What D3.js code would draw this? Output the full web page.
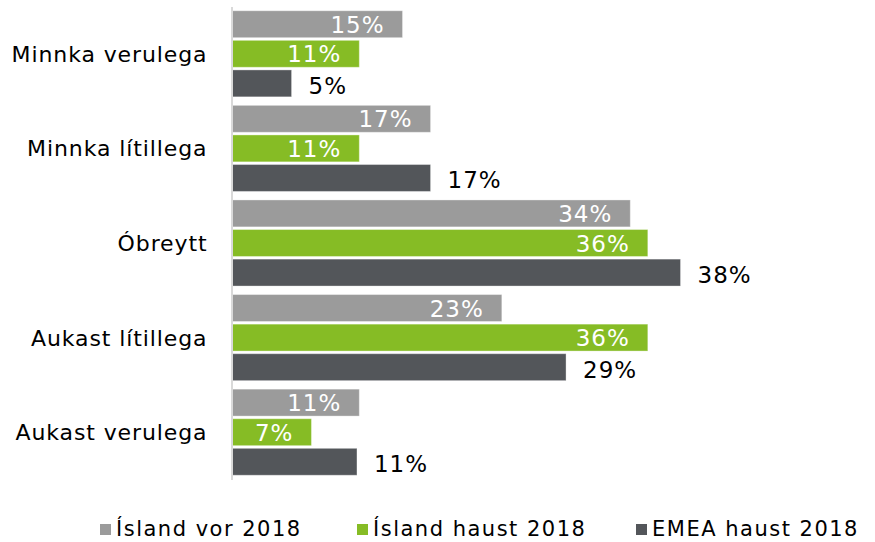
<!DOCTYPE html>
<html>
<head>
<meta charset="utf-8">
<script src="https://cdn.jsdelivr.net/npm/d3@7"></script>
<style>
  html, body { margin: 0; padding: 0; background: #fff; }
  svg { display: block; font-family: "DejaVu Sans", Verdana, sans-serif; }
</style>
</head>
<body>
<svg id="chart" width="875" height="542"></svg>
<script>
const categories = ["Minnka verulega", "Minnka lítillega", "Óbreytt", "Aukast lítillega", "Aukast verulega"];
const seriesNames = ["Ísland vor 2018", "Ísland haust 2018", "EMEA haust 2018"];
const islandVor   = [14.6, 17.0, 34.1, 23.1, 10.9];
const islandHaust = [10.9, 10.9, 35.6, 35.6, 6.8];
const emeaHaust   = [5.1, 17.0, 38.4, 28.6, 10.7];
const seriesColors = ["#9B9B9B", "#86BC25", "#53565A"];

const seriesValues = [islandVor, islandHaust, emeaHaust];
const rows = categories.map((c, i) => ({
  category: c,
  values: seriesNames.map((s, j) => ({ series: s, idx: j, value: seriesValues[j][i] }))
}));

const svg = d3.select("#chart");
const x0 = 232;

const x = d3.scaleLinear().domain([0, 40]).range([x0, x0 + 40 * 11.68]);
const y = d3.scaleBand().domain(categories).range([6.5, 479.5]).paddingInner(0.09).paddingOuter(0.045);
const yInner = d3.scaleBand().domain(seriesNames).range([0, y.bandwidth()]).paddingInner(0.09);

// bars
const groups = svg.append("g").selectAll("g")
  .data(rows).join("g")
  .attr("transform", d => `translate(0,${y(d.category)})`);

groups.selectAll("rect")
  .data(d => d.values).join("rect")
  .attr("x", x(0))
  .attr("y", d => yInner(d.series))
  .attr("width", d => x(d.value) - x(0))
  .attr("height", yInner.bandwidth())
  .attr("fill", d => seriesColors[d.idx])
  .attr("stroke", "rgba(255,255,255,0.35)")
  .attr("stroke-width", 1);

// value labels
const fmt = v => Math.round(v) + "%";
groups.selectAll("text.val")
  .data(d => d.values).join("text")
  .attr("class", "val")
  .attr("x", d => d.idx < 2 ? x(d.value) - 18 : x(d.value) + 17)
  .attr("y", d => yInner(d.series) + yInner.bandwidth() / 2)
  .attr("dy", d => d.idx < 2 ? "0.37em" : "0.45em")
  .attr("text-anchor", d => d.idx < 2 ? "end" : "start")
  .attr("fill", d => d.idx < 2 ? "#ffffff" : "#000000")
  .style("font-size", "23px")
  .style("letter-spacing", "1px")
  .text(d => fmt(d.value));

// category axis
const axis = svg.append("g")
  .attr("transform", `translate(${x0 - 0.5},0)`)
  .call(d3.axisLeft(y).tickSize(0).tickPadding(24));
axis.select(".domain").attr("stroke", "#D9D9D9").attr("stroke-width", 2);
axis.selectAll(".tick text")
  .attr("fill", "#000")
  .attr("dy", "0.36em")
  .style("font-size", "22px")
  .style("font-family", "'DejaVu Sans', Verdana, sans-serif")
  .style("letter-spacing", "0.9px");

// legend
const legendX = [100, 357, 636];
const legend = svg.append("g").selectAll("g")
  .data(seriesNames).join("g")
  .attr("transform", (d, i) => `translate(${legendX[i]},524)`);
legend.append("rect")
  .attr("width", 11).attr("height", 11)
  .attr("fill", (d, i) => seriesColors[i]);
legend.append("text")
  .attr("x", 16).attr("y", 12)
  .attr("fill", "#000")
  .style("font-size", "21px")
  .style("letter-spacing", "1.5px")
  .text(d => d);
</script>
</body>
</html>
